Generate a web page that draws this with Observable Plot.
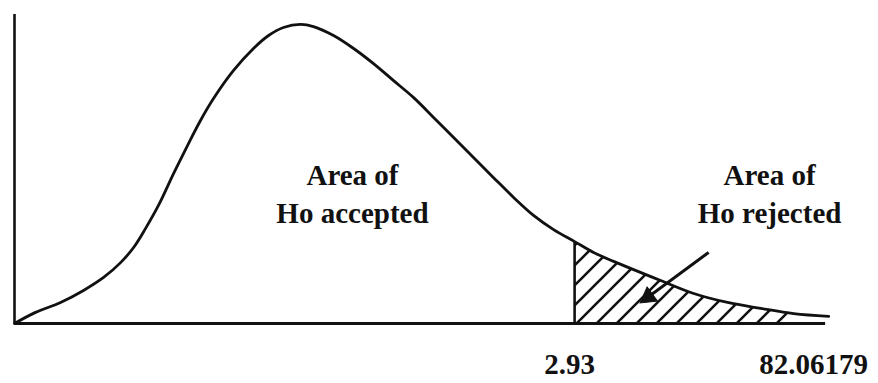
<!DOCTYPE html>
<html>
<head>
<meta charset="utf-8">
<script src="https://cdn.jsdelivr.net/npm/d3@7"></script>
<script src="https://cdn.jsdelivr.net/npm/@observablehq/plot@0.6"></script>
<style>
  html, body { margin: 0; padding: 0; background: #fff; }
</style>
</head>
<body>
<div id="chart"></div>
<script>
// F-distribution density curve (F value, relative density)
const fValues = [0, 0.110, 0.241, 0.361, 0.466, 0.555, 0.623, 0.685, 0.753, 0.832, 0.905,
  0.973, 1.041, 1.146, 1.250, 1.329, 1.407, 1.496, 1.564, 1.669, 1.774, 1.878, 1.983,
  2.088, 2.192, 2.297, 2.401, 2.506, 2.611, 2.715, 2.820, 2.930, 3.029, 3.134, 3.380,
  3.553, 3.730, 3.903, 4.076, 4.259];
const density = [0, 0.036, 0.068, 0.107, 0.149, 0.197, 0.246, 0.307, 0.382, 0.485, 0.576,
  0.657, 0.728, 0.819, 0.890, 0.932, 0.958, 0.968, 0.961, 0.932, 0.890, 0.841, 0.786,
  0.731, 0.667, 0.602, 0.537, 0.472, 0.408, 0.350, 0.304, 0.265, 0.230, 0.201, 0.139,
  0.097, 0.068, 0.049, 0.032, 0.023];

// critical value and end of the shaded rejection region
const fCritical = 2.93;
const rejectEnd = 4.1;

// x-axis labels: the critical value and the observed statistic (drawn at the tail, off scale)
const tickLabels = ["2.93", "82.06179"];
const tickPositions = [2.93, 4.206];

// region labels
const regionLabels = ["Area of\nHo accepted", "Area of\nHo rejected"];
const regionX = [1.768, 3.950];
const regionY = [0.535, 0.535];

// pointer from the "rejected" label into the shaded tail
const pointer = {x1: 3.631, y1: 0.230, x2: 3.315, y2: 0.086, angle: 233.7};

const curve = fValues.map((f, i) => ({f, d: density[i]}));
const tail = curve.filter(p => p.f >= fCritical && p.f <= rejectEnd);
const critDensity = curve.find(p => p.f === fCritical).d;
const ticks = tickLabels.map((label, i) => ({label, pos: tickPositions[i]}));
const regions = regionLabels.map((text, i) => ({text, x: regionX[i], y: regionY[i]}));

const ink = "#111";
const serif = "Liberation Serif";

const chart = Plot.plot({
  width: 878,
  height: 383,
  marginLeft: 14,
  marginRight: 42,
  marginTop: 14,
  marginBottom: 60,
  x: {domain: [0, 4.3], axis: null},
  y: {domain: [0, 1], axis: null},
  marks: [
    Plot.areaY(tail, {x: "f", y: "d", fill: "url(#hatch)", curve: "catmull-rom"}),
    Plot.line(curve, {x: "f", y: "d", stroke: ink, strokeWidth: 2.8, curve: "catmull-rom"}),
    Plot.ruleX([fCritical], {y1: 0, y2: critDensity, stroke: ink, strokeWidth: 2.6}),
    Plot.ruleX([0], {y1: 0, y2: 1, stroke: ink, strokeWidth: 2.6}),
    Plot.ruleY([0], {x1: 0, x2: 4.243, stroke: ink, strokeWidth: 2.8}),
    Plot.link([pointer], {x1: "x1", y1: "y1", x2: "x2", y2: "y2", stroke: ink, strokeWidth: 3}),
    Plot.dot([pointer], {x: "x2", y: "y2", symbol: "triangle", r: 6.5, fill: ink, stroke: ink,
      strokeWidth: 1, rotate: "angle"}),
    Plot.text(regions, {x: "x", y: "y", text: "text", lineAnchor: "top", lineHeight: 1.3,
      fontSize: 29, fontWeight: "bold", fontFamily: serif, fill: ink}),
    Plot.text(ticks, {x: "pos", text: "label", frameAnchor: "bottom", lineAnchor: "top",
      dx: -5, dy: 30, fontSize: 29, fontWeight: "bold", fontFamily: serif, fill: ink})
  ]
});

// diagonal hatching for the rejection region
const defs = d3.select(chart).insert("defs", ":first-child");
const pattern = defs.append("pattern")
  .attr("id", "hatch")
  .attr("patternUnits", "userSpaceOnUse")
  .attr("width", 20)
  .attr("height", 20);
pattern.append("path")
  .attr("d", "M-5,5 L5,-5 M0,20 L20,0 M15,25 L25,15")
  .attr("stroke", ink)
  .attr("stroke-width", 2.6)
  .attr("fill", "none");

document.getElementById("chart").appendChild(chart);
</script>
</body>
</html>
